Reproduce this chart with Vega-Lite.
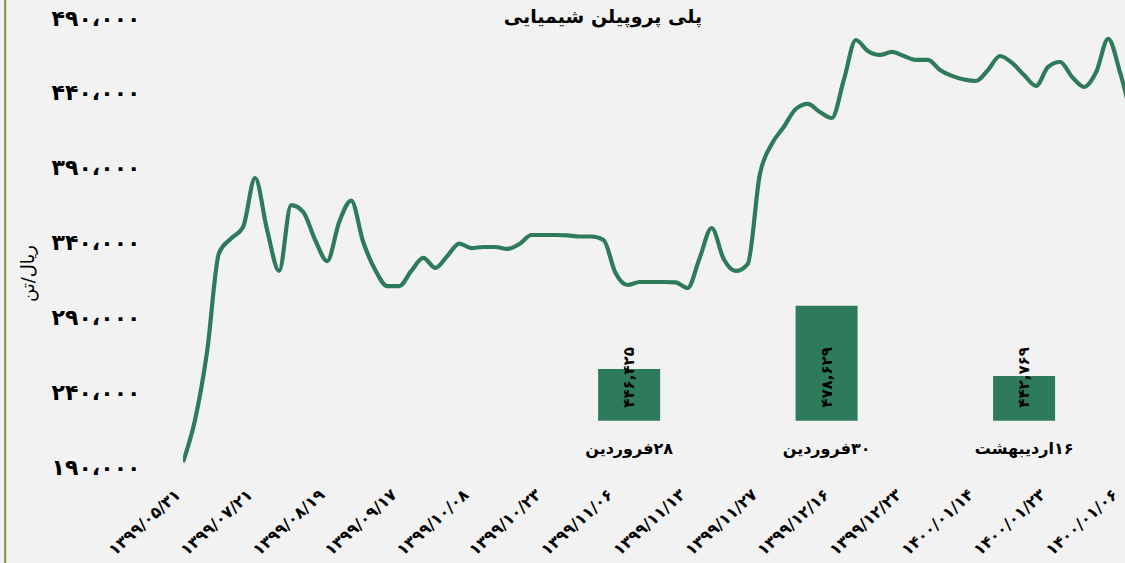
{
  "$schema": "https://vega.github.io/schema/vega-lite/v6.json",
  "autosize": {"type": "none"},
  "padding": {"left": 183, "top": 18, "right": 0, "bottom": 96},
  "width": 942,
  "height": 449,
  "background": "#F2F2F2",
  "config": {"view": {"stroke": null}, "font": "DejaVu Sans"},
  "title": {"text": "پلی پروپیلن شیمیایی", "fontSize": 19, "fontWeight": "bold", "font": "DejaVu Sans", "color": "#000000", "anchor": "middle", "dx": -51, "baseline": "alphabetic", "offset": -43},
  "datasets": {
    "line": [
      {"i": 0, "v": 193300}, {"i": 1, "v": 221400}, {"i": 2, "v": 266800}, {"i": 3, "v": 333000},
      {"i": 4, "v": 342700}, {"i": 5, "v": 350400}, {"i": 6, "v": 383100}, {"i": 7, "v": 348400},
      {"i": 8, "v": 321000}, {"i": 9, "v": 365000}, {"i": 10, "v": 360500}, {"i": 11, "v": 341700},
      {"i": 12, "v": 327600}, {"i": 13, "v": 353700}, {"i": 14, "v": 368000}, {"i": 15, "v": 340300},
      {"i": 16, "v": 321600}, {"i": 17, "v": 310900}, {"i": 18, "v": 310900}, {"i": 19, "v": 321000},
      {"i": 20, "v": 329700}, {"i": 21, "v": 323000}, {"i": 22, "v": 331000}, {"i": 23, "v": 339300},
      {"i": 24, "v": 336300}, {"i": 25, "v": 337000}, {"i": 26, "v": 337000}, {"i": 27, "v": 335700},
      {"i": 28, "v": 339000}, {"i": 29, "v": 345000}, {"i": 30, "v": 345000}, {"i": 31, "v": 345000},
      {"i": 32, "v": 344700}, {"i": 33, "v": 344000}, {"i": 34, "v": 344000}, {"i": 35, "v": 341700},
      {"i": 36, "v": 319600}, {"i": 37, "v": 311600}, {"i": 38, "v": 313600}, {"i": 39, "v": 313600},
      {"i": 40, "v": 313600}, {"i": 41, "v": 313300}, {"i": 42, "v": 309600}, {"i": 43, "v": 329700},
      {"i": 44, "v": 349700}, {"i": 45, "v": 329000}, {"i": 46, "v": 321000}, {"i": 47, "v": 325600},
      {"i": 48, "v": 385100}, {"i": 49, "v": 405800}, {"i": 50, "v": 417200}, {"i": 51, "v": 429200},
      {"i": 52, "v": 432600}, {"i": 53, "v": 427200}, {"i": 54, "v": 423200}, {"i": 55, "v": 448600},
      {"i": 56, "v": 475300}, {"i": 57, "v": 468000}, {"i": 58, "v": 465300}, {"i": 59, "v": 467300},
      {"i": 60, "v": 464600}, {"i": 61, "v": 462000}, {"i": 62, "v": 462000}, {"i": 63, "v": 455300},
      {"i": 64, "v": 451300}, {"i": 65, "v": 448900}, {"i": 66, "v": 447900}, {"i": 67, "v": 455300},
      {"i": 68, "v": 464600}, {"i": 69, "v": 460000}, {"i": 70, "v": 451900}, {"i": 71, "v": 444600},
      {"i": 72, "v": 457300}, {"i": 73, "v": 460600}, {"i": 74, "v": 450600}, {"i": 75, "v": 443900},
      {"i": 76, "v": 453900}, {"i": 77, "v": 476000}, {"i": 78, "v": 453300}, {"i": 79, "v": 421900}
    ],
    "bars": [
      {"c": "\u200F۲۸فروردین", "v": 446425, "t": "۴۴۶,۴۲۵"},
      {"c": "\u200F۳۰فروردین", "v": 478629, "t": "۴۷۸,۶۲۹"},
      {"c": "\u200F۱۶اردیبهشت", "v": 442769, "t": "۴۴۲,۷۶۹"}
    ],
    "frame": [{"k": 1}]
  },
  "resolve": {"scale": {"x": "independent", "y": "independent"}},
  "layer": [
    {
      "layer": [
        {
          "data": {"name": "line"},
          "mark": {"type": "line", "interpolate": "monotone", "color": "#2E7B5C", "strokeWidth": 4.2, "clip": true},
          "encoding": {
            "x": {
              "field": "i", "type": "quantitative",
              "scale": {"domain": [0, 78.4], "nice": false, "zero": false},
              "axis": {
                "values": [0, 6, 12, 18, 24, 30, 36, 42, 48, 54, 60, 66, 72, 78],
                "labelExpr": "['۱۳۹۹/۰۵/۳۱','۱۳۹۹/۰۷/۲۱','۱۳۹۹/۰۸/۱۹','۱۳۹۹/۰۹/۱۷','۱۳۹۹/۱۰/۰۸','۱۳۹۹/۱۰/۲۳','۱۳۹۹/۱۱/۰۶','۱۳۹۹/۱۱/۱۳','۱۳۹۹/۱۱/۲۷','۱۳۹۹/۱۲/۱۶','۱۳۹۹/۱۲/۲۳','۱۴۰۰/۰۱/۱۴','۱۴۰۰/۰۱/۲۳','۱۴۰۰/۰۱/۰۶'][round(datum.value/6)]",
                "labelAngle": -42, "labelAlign": "right", "labelBaseline": "bottom",
                "labelPadding": 31, "labelFontSize": 16, "labelFontWeight": "bold", "labelFont": "DejaVu Sans",
                "labelColor": "#000000", "labelOverlap": false, "labelFlush": false, "labelBound": false,
                "domain": false, "ticks": false, "grid": false, "title": null
              }
            },
            "y": {
              "field": "v", "type": "quantitative",
              "scale": {"domain": [190000, 490000], "nice": false, "zero": false},
              "axis": {
                "values": [190000, 240000, 290000, 340000, 390000, 440000, 490000],
                "labelExpr": "{'190000':'۱۹۰،۰۰۰','240000':'۲۴۰،۰۰۰','290000':'۲۹۰،۰۰۰','340000':'۳۴۰،۰۰۰','390000':'۳۹۰،۰۰۰','440000':'۴۴۰،۰۰۰','490000':'۴۹۰،۰۰۰'}[datum.value]",
                "labelPadding": 43, "labelFontSize": 22, "labelFontWeight": "bold", "labelFont": "DejaVu Sans",
                "labelColor": "#000000", "labelOverlap": false, "labelFlush": false,
                "domain": false, "ticks": false, "grid": false,
                "title": "ریال/تن", "titleFont": "DejaVu Sans", "titleFontSize": 18, "titleFontWeight": "normal",
                "titleColor": "#000000", "titleX": -155, "titleY": 255, "titleAlign": "center", "titleBaseline": "middle", "titleAngle": -90
              }
            }
          }
        },
        {
          "data": {"name": "frame"},
          "mark": {"type": "rule", "color": "#77933C", "strokeWidth": 2, "clip": false},
          "encoding": {
            "x": {"datum": -14.8, "type": "quantitative"},
            "y": {"datum": 502000, "type": "quantitative"},
            "y2": {"datum": 120000}
          }
        }
      ]
    },
    {
      "data": {"name": "bars"},
      "encoding": {
        "x": {
          "field": "c", "type": "nominal", "sort": null,
          "scale": {"type": "band", "paddingInner": 0.23, "paddingOuter": 1, "align": 0.937},
          "axis": null
        }
      },
      "layer": [
        {
          "mark": {"type": "bar", "color": "#2E7B5C", "width": 62},
          "encoding": {
            "y": {"field": "v", "type": "quantitative", "scale": {"domain": [396400, 625400], "nice": false, "zero": false}, "axis": null},
            "y2": {"datum": 420000}
          }
        },
        {
          "mark": {"type": "text", "angle": 270, "align": "left", "baseline": "middle", "dx": 13, "fontSize": 15, "fontWeight": "bold", "font": "DejaVu Sans", "color": "#000000"},
          "encoding": {
            "y": {"datum": 420000, "type": "quantitative"},
            "text": {"field": "t"}
          }
        },
        {
          "mark": {"type": "text", "align": "center", "baseline": "middle", "dy": 28, "fontSize": 16, "fontWeight": "bold", "font": "DejaVu Sans", "color": "#000000"},
          "encoding": {
            "y": {"datum": 420000, "type": "quantitative"},
            "text": {"field": "c"}
          }
        }
      ]
    }
  ]
}
